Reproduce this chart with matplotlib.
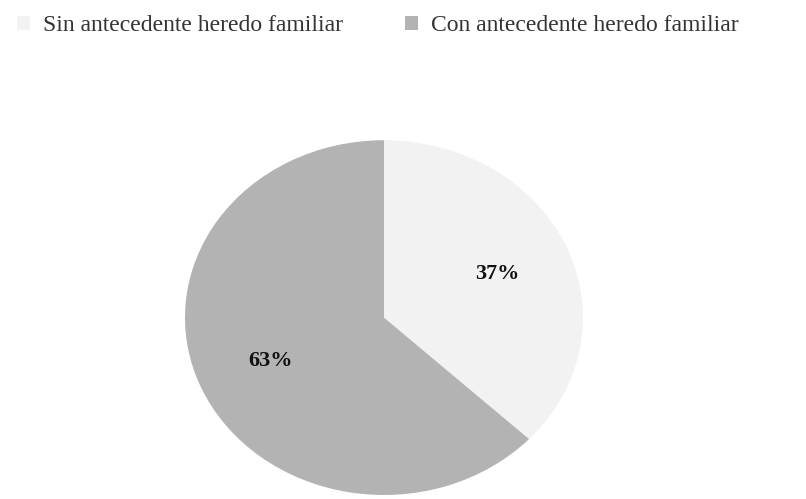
import matplotlib
matplotlib.use("Agg")
import matplotlib.pyplot as plt
from matplotlib.patches import Patch

labels = ["Sin antecedente heredo familiar", "Con antecedente heredo familiar"]
values = [37, 63]
colors = ["#f2f2f2", "#b3b3b3"]

plt.rcParams['font.family'] = ['Liberation Serif', 'DejaVu Serif']
fig = plt.figure(figsize=(8.06, 4.99), dpi=100)
ax = fig.add_axes([0.2295, 0.008, 0.4938, 0.711])
ax.pie(values, colors=colors, startangle=90, counterclock=False,
       autopct='%d%%', pctdistance=0.62,
       textprops=dict(fontsize=16, fontweight='bold', color='#111111'))
ax.set_aspect('auto')
ax.set_xlim(-1, 1)
ax.set_ylim(-1, 1)
handles = [Patch(facecolor=c, edgecolor='none') for c in colors]
fig.legend(handles, labels, loc='upper left', bbox_to_anchor=(-0.005, 1.012), ncol=2,
           frameon=False, fontsize=17, handlelength=0.55, handleheight=0.55,
           handletextpad=0.55, columnspacing=2.6, labelcolor='#333333')
fig.savefig("out.png", dpi=100, facecolor='white')
